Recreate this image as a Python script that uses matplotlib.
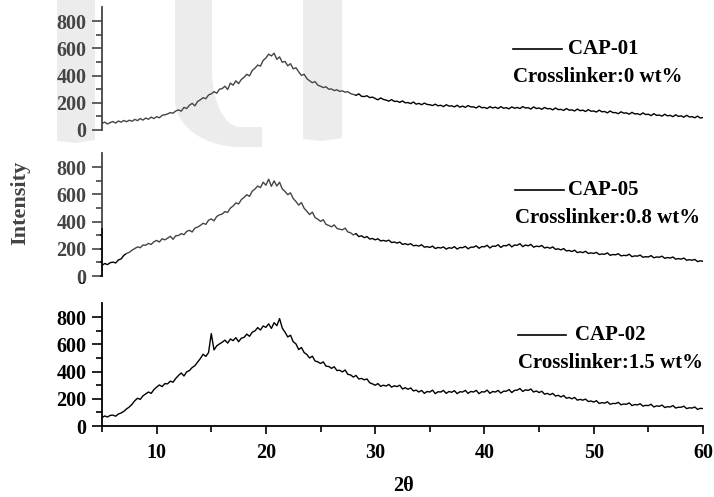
import numpy as np
import matplotlib
matplotlib.use("Agg")
import matplotlib.pyplot as plt
from matplotlib.patches import Polygon
from matplotlib.transforms import Affine2D

plt.rcParams['font.family'] = ['Liberation Serif', 'DejaVu Serif']
plt.rcParams['font.weight'] = 'bold'

# 2-theta grid, 0.25 deg steps from 5 to 60
two_theta = np.arange(5, 60.001, 0.25)

cap01 = [48, 58, 44, 55, 62, 51, 66, 58, 70, 61, 72, 64, 78, 69, 84, 73,
         88, 79, 95, 84, 98, 90, 108, 112, 118, 128, 124, 140, 148, 139, 166, 158,
         182, 196, 178, 210, 222, 238, 230, 258, 266, 282, 271, 300, 305, 322, 298, 345,
         330, 362, 341, 372, 388, 410, 398, 438, 455, 478, 470, 512, 530, 558, 545, 565,
         520, 538, 498, 505, 472, 488, 450, 458, 428, 402, 410, 378, 362, 348, 356, 330,
         322, 312, 318, 300, 302, 290, 296, 284, 288, 278, 282, 268, 262, 255, 266, 248,
         246, 252, 238, 242, 232, 222, 236, 225, 220, 212, 224, 210, 212, 203, 214, 200,
         202, 194, 206, 190, 196, 186, 198, 188, 186, 180, 190, 178, 182, 172, 186, 176,
         178, 170, 182, 168, 176, 166, 180, 170, 170, 162, 176, 164, 166, 158, 172, 162,
         168, 158, 172, 160, 164, 156, 170, 160, 166, 158, 172, 162, 164, 154, 170, 158,
         162, 152, 166, 156, 158, 148, 162, 150, 152, 144, 158, 146, 148, 140, 154, 142,
         146, 136, 150, 138, 140, 132, 146, 134, 136, 126, 140, 128, 128, 120, 134, 124,
         126, 116, 130, 118, 120, 112, 126, 114, 116, 106, 120, 108, 110, 102, 116, 104,
         108, 98, 112, 100, 104, 94, 108, 96, 98, 90, 102, 88, 92]

cap05 = [78, 92, 84, 98, 102, 96, 118, 126, 152, 166, 174, 190, 202, 214, 208, 228,
         226, 240, 232, 252, 262, 250, 274, 266, 278, 292, 270, 296, 298, 312, 304, 328,
         336, 324, 352, 360, 372, 388, 380, 410, 420, 406, 438, 450, 456, 474, 468, 500,
         515, 538, 530, 562, 578, 598, 586, 624, 640, 662, 650, 690, 668, 712, 660, 700,
         662, 690, 640, 622, 598, 612, 570, 548, 522, 540, 498, 476, 452, 470, 430, 418,
         402, 414, 380, 372, 362, 376, 350, 344, 340, 352, 324, 318, 302, 312, 290, 296,
         282, 290, 272, 276, 266, 274, 258, 262, 256, 264, 246, 250, 242, 250, 232, 238,
         230, 238, 222, 226, 220, 230, 212, 216, 210, 220, 202, 210, 206, 214, 198, 208,
         204, 216, 198, 210, 208, 218, 200, 212, 212, 222, 204, 216, 215, 226, 206, 220,
         218, 230, 210, 224, 222, 234, 214, 228, 226, 238, 216, 228, 222, 232, 212, 220,
         216, 224, 206, 212, 204, 214, 196, 200, 192, 202, 184, 188, 180, 190, 172, 178,
         172, 182, 166, 170, 166, 174, 158, 162, 160, 170, 152, 158, 156, 164, 148, 152,
         150, 160, 142, 148, 146, 154, 138, 142, 140, 150, 134, 140, 138, 146, 130, 136,
         132, 140, 124, 128, 124, 132, 116, 120, 116, 122, 106, 112, 108]

cap02 = [62, 74, 66, 78, 80, 72, 88, 96, 108, 126, 140, 160, 186, 204, 196, 222,
         236, 250, 240, 268, 286, 302, 290, 312, 310, 330, 322, 350, 372, 390, 368, 398,
         408, 430, 444, 470, 496, 528, 512, 540, 680, 560, 590, 604, 616, 632, 610, 640,
         628, 650, 620, 646, 652, 676, 660, 690, 700, 724, 706, 736, 726, 752, 718, 760,
         738, 790, 720, 690, 655, 668, 620, 604, 562, 578, 540, 526, 500, 514, 478, 472,
         460, 472, 440, 438, 424, 436, 408, 410, 398, 412, 380, 376, 360, 372, 346, 350,
         340, 346, 318, 310, 300, 312, 292, 300, 294, 306, 286, 296, 290, 300, 272, 282,
         270, 280, 258, 264, 250, 262, 240, 254, 250, 264, 238, 252, 250, 262, 240, 254,
         248, 260, 238, 252, 250, 262, 240, 254, 250, 262, 238, 252, 250, 264, 240, 254,
         250, 262, 242, 256, 256, 268, 246, 262, 264, 276, 254, 266, 262, 272, 250, 258,
         246, 256, 234, 240, 230, 240, 220, 226, 214, 224, 204, 210, 200, 210, 190, 196,
         190, 198, 180, 184, 176, 186, 166, 172, 168, 178, 160, 166, 165, 174, 156, 162,
         160, 170, 150, 158, 155, 164, 146, 152, 150, 160, 140, 148, 145, 154, 136, 142,
         140, 150, 132, 138, 138, 146, 128, 134, 132, 140, 122, 130, 128]

names = ['CAP-01', 'CAP-05', 'CAP-02']
notes = ['Crosslinker:0 wt%', 'Crosslinker:0.8 wt%', 'Crosslinker:1.5 wt%']
series = [cap01, cap05, cap02]

W, H = 714, 497
fig = plt.figure(figsize=(W / 100, H / 100), dpi=100)
fig.patch.set_facecolor('white')
# pixel coords (origin top-left) -> figure
pix = Affine2D().scale(1 / W, -1 / H).translate(0, 1) + fig.transFigure

# axes placement in pixels: (top, bottom)
rows = [(7, 130), (153, 276), (303, 426)]
left, right = 102, 703
# legend positions (data coords): line x0, x1, text x, y line, y note
leg = [(42.6, 47.1, 47.6, 597, 388),
       (42.8, 47.3, 47.6, 632, 426),
       (43.1, 47.5, 48.3, 669, 463)]

for i, (top, bot) in enumerate(rows):
    ax = fig.add_axes([left / W, 1 - bot / H, (right - left) / W, (bot - top) / H])
    ax.set_facecolor('none')
    ax.plot(two_theta, series[i], color='black', lw=1.0)
    ax.set_xlim(5, 60)
    ax.set_ylim(0, 905)
    ax.set_yticks([0, 200, 400, 600, 800])
    ax.set_yticks(range(100, 900, 200), minor=True)
    ax.tick_params(axis='y', which='major', direction='out', length=7, width=1.2,
                   labelsize=14.5, pad=4)
    ax.tick_params(axis='y', which='minor', direction='out', length=4, width=1.2)
    for s in ['top', 'right']:
        ax.spines[s].set_visible(False)
    ax.spines['left'].set_linewidth(1.3)
    if i < 2:
        ax.spines['bottom'].set_visible(False)
        ax.set_xticks([])
        ax.set_xticks([], minor=True)
    else:
        ax.spines['bottom'].set_linewidth(1.3)
        ax.set_xticks([10, 20, 30, 40, 50, 60])
        ax.set_xticks([5, 15, 25, 35, 45, 55], minor=True)
        ax.tick_params(axis='x', which='major', direction='out', length=6, width=1.2,
                       labelsize=14.5, pad=6)
        ax.tick_params(axis='x', which='minor', direction='out', length=4, width=1.2)
    for lab in ax.get_xticklabels() + ax.get_yticklabels():
        lab.set_fontweight('bold')
    x0, x1, xt, yl, yn = leg[i]
    ax.plot([x0, x1], [yl, yl], color='black', lw=1.2)
    ax.text(xt, yl, names[i], fontsize=15, fontweight='bold', va='center', ha='left')
    ax.text(x0, yn, notes[i], fontsize=15, fontweight='bold', va='center', ha='left')

fig.text(20, 203, 'Intensity', transform=pix, rotation=90, fontsize=16,
         fontweight='bold', ha='center', va='center')
fig.text(403, 486, '2θ', transform=pix, fontsize=14.5, fontweight='bold',
         ha='center', va='center')

# watermark shapes behind the plot (pixel coords)
wm = '#e6e6e6'
left_bar = [(57, 0), (95, 0), (95, 140), (76, 143), (57, 141)]
right_bar = [(303, 0), (342, 0), (342, 138), (322, 141), (303, 139)]
t = np.linspace(np.pi, np.pi / 2, 25)
outer = list(zip(240 + 65 * np.cos(t), 100 + 47 * np.sin(t)))
inner = list(zip(240 + 28 * np.cos(t), 70 + 57 * np.sin(t)))[::-1]
u_shape = [(175, 0)] + outer + [(262, 147), (262, 127)] + inner + [(212, 0)]
for pts in [left_bar, right_bar, u_shape]:
    fig.add_artist(Polygon(pts, closed=True, facecolor=wm, edgecolor='none',
                           transform=pix, zorder=-5))

# faint white veil over the upper-left part
veil = [(0, 0), (355, 0), (355, 282), (126, 282), (126, 228), (100, 228),
        (100, 282), (0, 282)]
fig.add_artist(Polygon(veil, closed=True, facecolor='white', edgecolor='none',
                       alpha=0.27, transform=pix, zorder=10))

fig.savefig('out.png', dpi=100)
